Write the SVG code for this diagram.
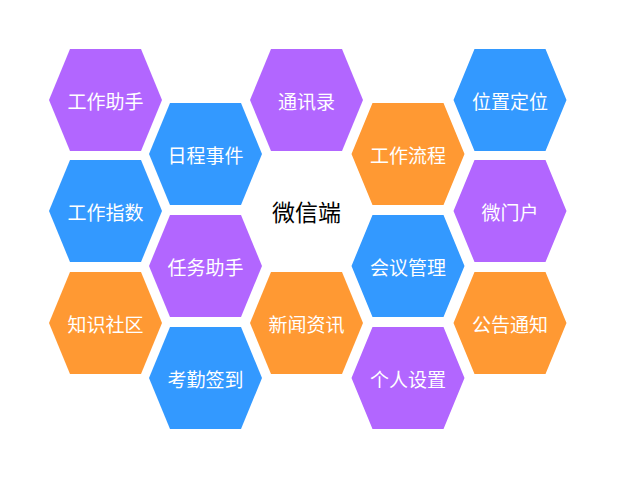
<svg xmlns="http://www.w3.org/2000/svg" width="630" height="492" viewBox="0 0 630 492">
<style>
.p{fill:#B266FF}.b{fill:#3399FF}.o{fill:#FF9933}
text{font-family:"Noto Sans CJK SC",sans-serif;font-size:19px;fill:#fff;text-anchor:middle;dominant-baseline:central}
</style>
<defs><polygon id="h" points="-56.5,0 -35.5,-51 35.5,-51 56.5,0 35.5,51 -35.5,51"/></defs>
<rect width="630" height="492" fill="#fff"/>
<g id="n1" transform="translate(105.5,100)"><use href="#h" class="p"/><text>工作助手</text></g>
<g id="n2" transform="translate(105.5,211)"><use href="#h" class="b"/><text>工作指数</text></g>
<g id="n3" transform="translate(105.5,323)"><use href="#h" class="o"/><text>知识社区</text></g>
<g id="n4" transform="translate(205.5,154)"><use href="#h" class="b"/><text>日程事件</text></g>
<g id="n5" transform="translate(205.5,266)"><use href="#h" class="p"/><text>任务助手</text></g>
<g id="n6" transform="translate(205.5,378)"><use href="#h" class="b"/><text>考勤签到</text></g>
<g id="n7" transform="translate(306.5,100)"><use href="#h" class="p"/><text>通讯录</text></g>
<g id="n8" transform="translate(306.5,211)"><text style="fill:#000;font-size:23px">微信端</text></g>
<g id="n9" transform="translate(306.5,323)"><use href="#h" class="o"/><text>新闻资讯</text></g>
<g id="n10" transform="translate(408,154)"><use href="#h" class="o"/><text>工作流程</text></g>
<g id="n11" transform="translate(408,266)"><use href="#h" class="b"/><text>会议管理</text></g>
<g id="n12" transform="translate(408,378)"><use href="#h" class="p"/><text>个人设置</text></g>
<g id="n13" transform="translate(510,100)"><use href="#h" class="b"/><text>位置定位</text></g>
<g id="n14" transform="translate(510,211)"><use href="#h" class="p"/><text>微门户</text></g>
<g id="n15" transform="translate(510,323)"><use href="#h" class="o"/><text>公告通知</text></g>
<g id="connectors"/>
</svg>
